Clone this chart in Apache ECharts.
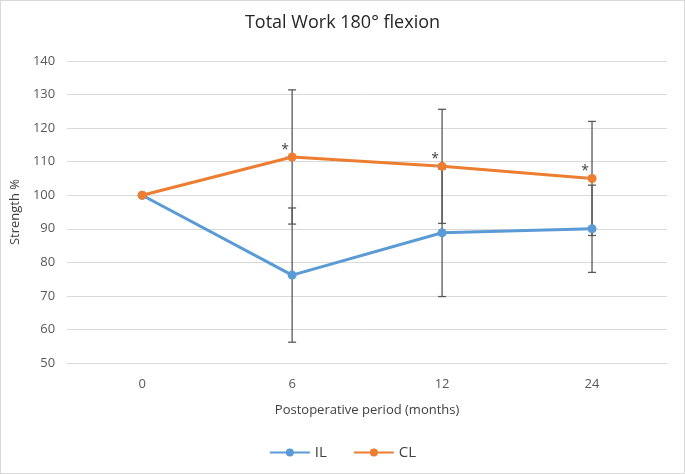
<!DOCTYPE html>
<html>
<head>
<meta charset="utf-8">
<script src="https://cdn.jsdelivr.net/npm/echarts@6/dist/echarts.min.js"></script>
<style>
  html, body { margin: 0; padding: 0; background: #fff; }
  #chart { width: 683px; height: 472px; border: 1px solid #d9d9d9; }
</style>
</head>
<body>
<div id="chart"></div>
<script>
// data
const months = ['0', '6', '12', '24'];
const ilValues = [100, 76.2, 88.8, 90];
const clValues = [100, 111.4, 108.6, 105];
const ilErr = [0, 20, 19, 13];
const clErr = [0, 20, 17, 17];
const yTicks = [50, 60, 70, 80, 90, 100, 110, 120, 130, 140];

const blue = '#5b9bd5';
const orange = '#ed7d31';

function errData (vals, errs) {
  return vals.map((v, i) => [i, v - errs[i], v + errs[i], errs[i]]).filter(d => d[3] > 0);
}

function renderErr (params, api) {
  const lo = api.coord([api.value(0), api.value(1)]);
  const hi = api.coord([api.value(0), api.value(2)]);
  const w = 4;
  const style = { stroke: '#595959', lineWidth: 1.3 };
  return {
    type: 'group',
    children: [
      { type: 'line', shape: { x1: lo[0], y1: lo[1], x2: hi[0], y2: hi[1] }, style: style },
      { type: 'line', shape: { x1: lo[0] - w, y1: lo[1], x2: lo[0] + w, y2: lo[1] }, style: style },
      { type: 'line', shape: { x1: hi[0] - w, y1: hi[1], x2: hi[0] + w, y2: hi[1] }, style: style }
    ]
  };
}

const chart = echarts.init(document.getElementById('chart'));
chart.setOption({
  animation: false,
  textStyle: { fontFamily: 'Open Sans, Liberation Sans, sans-serif' },
  title: {
    text: 'Total Work 180° flexion',
    left: 'center',
    top: 8,
    textStyle: { fontSize: 18, fontWeight: 'normal', color: '#262626' }
  },
  legend: {
    data: ['IL', 'CL'],
    bottom: 8,
    left: 'center',
    itemWidth: 40,
    itemHeight: 10,
    itemGap: 26,
    textStyle: { fontSize: 15, color: '#404040' }
  },
  grid: { left: 63, right: 17, top: 60, bottom: 110 },
  xAxis: {
    type: 'category',
    data: months,
    name: 'Postoperative period (months)',
    nameLocation: 'middle',
    nameGap: 41,
    nameTextStyle: { fontSize: 13, color: '#404040' },
    axisLine: { lineStyle: { color: '#d9d9d9' } },
    axisTick: { show: false },
    axisLabel: { color: '#595959', fontSize: 13, margin: 15 }
  },
  yAxis: {
    type: 'value',
    min: yTicks[0],
    max: yTicks[yTicks.length - 1],
    interval: 10,
    name: 'Strength %',
    nameLocation: 'middle',
    nameGap: 40,
    nameTextStyle: { fontSize: 13, color: '#404040' },
    axisLine: { show: false },
    axisTick: { show: false },
    axisLabel: { color: '#595959', fontSize: 13, margin: 12 },
    splitLine: { lineStyle: { color: '#d9d9d9' } }
  },
  series: [
    {
      name: 'IL err',
      type: 'custom',
      renderItem: renderErr,
      data: errData(ilValues, ilErr),
      encode: { x: 0, y: [1, 2] },
      z: 1,
      silent: true
    },
    {
      name: 'CL err',
      type: 'custom',
      renderItem: renderErr,
      data: errData(clValues, clErr),
      encode: { x: 0, y: [1, 2] },
      z: 1,
      silent: true
    },
    {
      name: 'IL',
      type: 'line',
      data: ilValues,
      symbol: 'circle',
      symbolSize: 9,
      lineStyle: { color: blue, width: 3 },
      itemStyle: { color: blue },
      z: 3
    },
    {
      name: 'CL',
      type: 'line',
      data: clValues.map((v, i) => ({
        value: v,
        label: i > 0 ? { show: true } : { show: false }
      })),
      symbol: 'circle',
      symbolSize: 9,
      lineStyle: { color: orange, width: 3 },
      itemStyle: { color: orange },
      label: {
        position: 'inside',
        formatter: '*',
        fontSize: 14,
        color: '#404040'
      },
      labelLayout: { dx: -7, dy: -7 },
      labelLine: { show: true, lineStyle: { color: '#a6a6a6', width: 1 } },
      z: 4
    }
  ]
});
</script>
</body>
</html>
